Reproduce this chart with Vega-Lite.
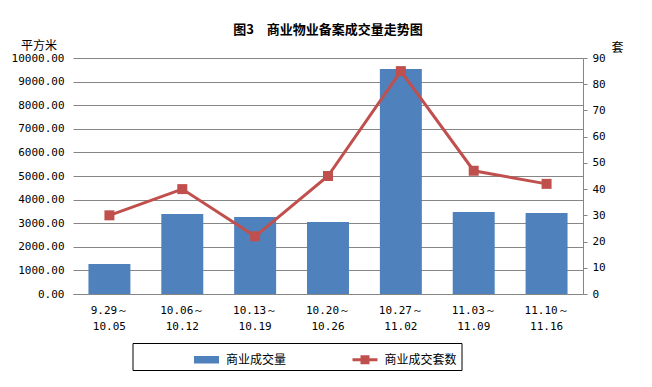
{
  "$schema": "https://vega.github.io/schema/vega-lite/v6.json",
  "width": 510,
  "height": 236,
  "autosize": {"type": "none"},
  "padding": {"left": 73, "top": 58, "right": 69, "bottom": 93},
  "background": "white",
  "title": {
    "text": "图3　商业物业备案成交量走势图",
    "font": "Noto Sans CJK SC",
    "fontSize": 13,
    "fontWeight": "bold",
    "color": "black",
    "anchor": "middle",
    "frame": "group",
    "offset": 2
  },
  "data": {
    "values": [
      {"week": "9.29～10.05", "area": 1270, "count": 30},
      {"week": "10.06～10.12", "area": 3390, "count": 40},
      {"week": "10.13～10.19", "area": 3265, "count": 22},
      {"week": "10.20～10.26", "area": 3050, "count": 45},
      {"week": "10.27～11.02", "area": 9535, "count": 85},
      {"week": "11.03～11.09", "area": 3475, "count": 47},
      {"week": "11.10～11.16", "area": 3430, "count": 42}
    ]
  },
  "encoding": {
    "x": {
      "field": "week",
      "type": "nominal",
      "sort": null,
      "scale": {"paddingInner": 0.424, "paddingOuter": 0.212},
      "axis": {
        "title": null,
        "labelAngle": 0,
        "labelExpr": "[slice(datum.label,0,indexof(datum.label,'～')+1), slice(datum.label,indexof(datum.label,'～')+1)]",
        "labelLineHeight": 16,
        "labelPadding": 10,
        "labelFont": "DejaVu Sans Mono",
        "labelFontSize": 11,
        "labelColor": "black",
        "ticks": false,
        "domain": true,
        "domainColor": "#868686",
        "grid": false
      }
    }
  },
  "layer": [
    {
      "mark": {"type": "bar"},
      "encoding": {
        "y": {
          "field": "area",
          "type": "quantitative",
          "scale": {"domain": [0, 10000], "nice": false},
          "axis": {
            "title": "平方米",
            "titleAngle": 0,
            "titleX": -34.5,
            "titleY": -13,
            "titleAlign": "center",
            "titleBaseline": "middle",
            "titleFont": "Noto Sans CJK SC",
            "titleFontSize": 12,
            "titleFontWeight": "normal",
            "titleColor": "black",
            "format": ".2f",
            "values": [0, 1000, 2000, 3000, 4000, 5000, 6000, 7000, 8000, 9000, 10000],
            "grid": true,
            "gridColor": "#868686",
            "domain": false,
            "ticks": false,
            "labelPadding": 9,
            "labelFont": "DejaVu Sans Mono",
            "labelFontSize": 11,
            "labelColor": "black"
          }
        },
        "color": {
          "datum": "商业成交量",
          "scale": {"domain": ["商业成交量", "商业成交套数"], "range": ["#4F81BD", "#C0504D"]},
          "legend": {
            "title": null,
            "orient": "none",
            "legendX": 59.5,
            "legendY": 285,
            "direction": "horizontal",
            "padding": 4,
            "strokeColor": "black",
            "fillColor": "white",
            "symbolSize": 625,
            "symbolOffset": 57.5,
            "columnPadding": 8.5,
            "labelOffset": 7,
            "labelFont": "Noto Sans CJK SC",
            "labelFontSize": 12,
            "labelColor": "black",
            "labelExpr": "datum.label == '商业成交套数' ? datum.label + '　　　　' : datum.label",
            "encode": {
              "symbols": {
                "update": {
                  "shape": {"signal": "datum.value == '商业成交量' ? 'M-1,-0.3H1V0.3H-1Z' : 'M-1,-0.12H1V0.12H-1Z M-0.36,-0.36H0.36V0.36H-0.36Z'"},
                  "fill": {"scale": "color", "field": "value"},
                  "stroke": {"value": "transparent"},
                  "strokeWidth": {"value": 0},
                  "opacity": {"value": 1}
                }
              }
            }
          }
        }
      }
    },
    {
      "mark": {
        "type": "line",
        "strokeWidth": 3,
        "point": {"shape": "square", "size": 100, "filled": true}
      },
      "encoding": {
        "y": {
          "field": "count",
          "type": "quantitative",
          "scale": {"domain": [0, 90], "nice": false},
          "axis": {
            "orient": "right",
            "title": "套",
            "titleAngle": 0,
            "titleX": 34,
            "titleY": -11,
            "titleAlign": "center",
            "titleBaseline": "middle",
            "titleFont": "Noto Sans CJK SC",
            "titleFontSize": 12,
            "titleFontWeight": "normal",
            "titleColor": "black",
            "values": [0, 10, 20, 30, 40, 50, 60, 70, 80, 90],
            "format": "d",
            "grid": false,
            "domain": true,
            "domainColor": "#868686",
            "ticks": true,
            "tickColor": "#868686",
            "tickSize": 4,
            "labelPadding": 5,
            "labelFont": "DejaVu Sans Mono",
            "labelFontSize": 11,
            "labelColor": "black"
          }
        },
        "color": {"datum": "商业成交套数"}
      }
    }
  ],
  "resolve": {"scale": {"y": "independent"}},
  "config": {
    "view": {"stroke": null}
  }
}
